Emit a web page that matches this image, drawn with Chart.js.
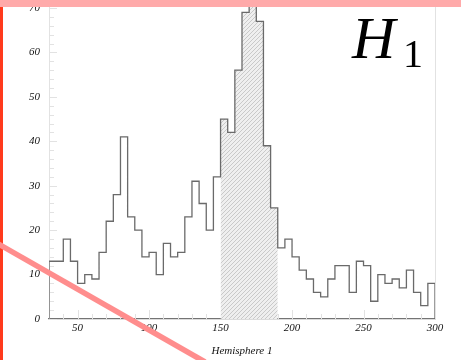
<!DOCTYPE html>
<html>
<head>
<meta charset="utf-8">
<script src="https://cdn.jsdelivr.net/npm/chart.js@4/dist/chart.umd.min.js"></script>
<style>
  html, body { margin: 0; padding: 0; background: #fff; overflow: hidden; }
  #wrap { position: relative; width: 461px; height: 360px; }
  canvas { display: block; }
</style>
</head>
<body>
<div id="wrap"><canvas id="c" width="461" height="360"></canvas></div>
<script>
// Histogram of Hemisphere 1: lower bin edges and entries per bin
const binLow = [30, 35, 40, 45, 50, 55, 60, 65, 70, 75, 80, 85, 90, 95, 100, 105, 110, 115,
                120, 125, 130, 135, 140, 145, 150, 155, 160, 165, 170, 175, 180, 185, 190, 195,
                200, 205, 210, 215, 220, 225, 230, 235, 240, 245, 250, 255, 260, 265, 270, 275,
                280, 285, 290, 295];
const binWidth = 5;
const counts = [13, 13, 18, 13, 8, 10, 9, 15, 22, 28, 41, 23, 20, 14, 15, 10, 17, 14,
                15, 23, 31, 26, 20, 32, 45, 42, 56, 69, 74, 67, 39, 25, 16, 18,
                14, 11, 9, 6, 5, 9, 12, 12, 6, 13, 12, 4, 10, 8, 9, 7,
                11, 6, 3, 8];
// shaded window [hatchFrom, hatchTo)
const hatchFrom = 150;
const hatchTo = 190;

const xTicks = [50, 100, 150, 200, 250, 300];
const yTicks = [0, 10, 20, 30, 40, 50, 60, 70];
const xMinorStep = 10;
const yMinorStep = 2;
const xTitle = 'Hemisphere 1';
const histName = 'H';
const histIndex = '1';

const SERIF = "'Liberation Serif', 'DejaVu Serif', serif";
const lineColor = '#6a6a6a';

// outline: rise at the first edge, steps across, drop after the last bin
const outline = [{ x: binLow[0], y: 0 }];
binLow.forEach((lo, i) => outline.push({ x: lo, y: counts[i] }));
outline.push({ x: binLow[binLow.length - 1] + binWidth, y: 0 });
// step points sit at the upper edge of each bin so each level spans its own bin
const outlineSteps = outline.map((p, i) => (i === 0 || i === outline.length - 1) ? p : { x: p.x + binWidth, y: p.y });
outlineSteps.splice(1, 0, { x: binLow[0], y: counts[0] });

const shaded = [{ x: hatchFrom, y: 0 }];
binLow.forEach((lo, i) => { if (lo >= hatchFrom && lo < hatchTo) shaded.push({ x: lo + binWidth, y: counts[i] }); });
shaded.push({ x: hatchTo, y: 0 });

function hatchPattern() {
  const t = document.createElement('canvas');
  t.width = 4; t.height = 4;
  const g = t.getContext('2d');
  g.fillStyle = '#efefef';
  g.fillRect(0, 0, 4, 4);
  g.strokeStyle = '#c4c4c4';
  g.lineWidth = 0.9;
  g.beginPath();
  g.moveTo(-1, 5); g.lineTo(5, -1);
  g.moveTo(-1, 1); g.lineTo(1, -1);
  g.moveTo(3, 5); g.lineTo(5, 3);
  g.stroke();
  return g.createPattern(t, 'repeat');
}

// inward tick marks, major and minor, plus the frame line on the right
const frameTicks = {
  id: 'frameTicks',
  beforeDatasetsDraw(chart) {
    const { ctx, chartArea: a, scales: { x, y } } = chart;
    ctx.save();
    ctx.strokeStyle = '#e2e2e2';
    ctx.lineWidth = 1;
    ctx.beginPath();
    ctx.moveTo(a.right + 0.5, a.top); ctx.lineTo(a.right + 0.5, a.bottom);
    for (let v = y.min; v <= y.max + 1e-9; v += yMinorStep) {
      const py = Math.round(y.getPixelForValue(v)) + 0.5;
      const len = yTicks.includes(v) ? 8 : 5;
      ctx.moveTo(a.left, py); ctx.lineTo(a.left + len, py);
    }
    for (let v = Math.ceil(x.min / xMinorStep) * xMinorStep; v <= x.max + 1e-9; v += xMinorStep) {
      const px = Math.round(x.getPixelForValue(v)) + 0.5;
      const len = xTicks.includes(v) ? 9 : 5;
      ctx.moveTo(px, a.bottom); ctx.lineTo(px, a.bottom - len);
    }
    ctx.stroke();
    ctx.restore();
  },
  afterDraw(chart) {
    const { ctx, chartArea: a } = chart;
    ctx.save();
    // histogram name with index
    ctx.fillStyle = '#000';
    ctx.textBaseline = 'alphabetic';
    ctx.font = 'italic 60px ' + SERIF;
    ctx.fillText(histName, a.right - 83, 58);
    ctx.font = '40px ' + SERIF;
    ctx.fillText(histIndex, a.right - 32, 67);
    // marker strokes over the figure
    ctx.fillStyle = '#ff3a1c';
    ctx.fillRect(0, 0, 3, chart.height);
    ctx.strokeStyle = '#ff8d8d';
    ctx.lineWidth = 5.5;
    ctx.lineCap = 'butt';
    ctx.beginPath();
    ctx.moveTo(-5, 242);
    ctx.lineTo(205, 362);
    ctx.stroke();
    ctx.fillStyle = '#ffaaaa';
    ctx.fillRect(0, 0, chart.width, 7);
    ctx.restore();
  }
};

new Chart(document.getElementById('c'), {
  type: 'line',
  data: {
    datasets: [
      {
        data: outlineSteps,
        stepped: 'after',
        borderColor: lineColor,
        borderWidth: 1.3,
        pointRadius: 0,
        fill: false
      },
      {
        data: shaded,
        stepped: 'after',
        borderWidth: 0,
        borderColor: 'rgba(0,0,0,0)',
        backgroundColor: hatchPattern(),
        pointRadius: 0,
        fill: 'origin'
      }
    ]
  },
  options: {
    responsive: false,
    animation: false,
    devicePixelRatio: 1,
    layout: { padding: { left: 0, right: 26, top: 0, bottom: 0 } },
    plugins: { legend: { display: false }, tooltip: { enabled: false } },
    scales: {
      x: {
        type: 'linear',
        min: 30,
        max: 300,
        afterBuildTicks(s) { s.ticks = xTicks.map(v => ({ value: v })); },
        afterFit(s) { s.height = 41; s.paddingLeft = 0; s.paddingRight = 0; },
        grid: { display: false, drawTicks: false },
        border: { display: true, color: '#747474', width: 1.2 },
        ticks: {
          padding: 3,
          color: '#111',
          font: { family: SERIF, size: 11, style: 'italic' },
          maxRotation: 0
        },
        title: {
          display: true,
          text: xTitle,
          color: '#111',
          font: { family: SERIF, size: 11, style: 'italic' },
          padding: { top: 0, bottom: 2 }
        }
      },
      y: {
        min: 0,
        max: 71.8,
        afterBuildTicks(s) { s.ticks = yTicks.map(v => ({ value: v })); },
        afterFit(s) { s.width = 49; s.paddingTop = 0; s.paddingBottom = 0; },
        grid: { display: false, drawTicks: false },
        border: { display: true, color: '#e2e2e2', width: 1 },
        ticks: {
          padding: 9,
          color: '#111',
          font: { family: SERIF, size: 11, style: 'italic' }
        }
      }
    }
  },
  plugins: [frameTicks]
});
</script>
</body>
</html>
